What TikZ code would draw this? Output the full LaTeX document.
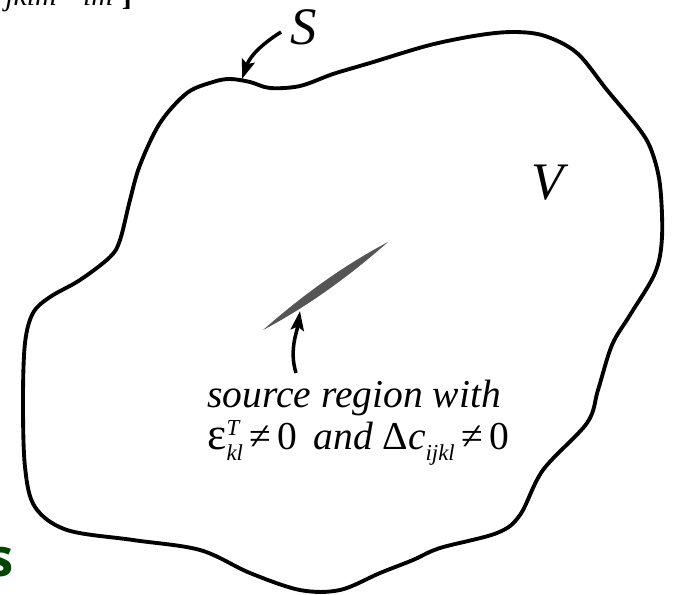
\documentclass[tikz,border=0pt]{standalone}
\usepackage{fontspec}
\setmainfont{Liberation Serif}
\newfontfamily\slidefont{Open Sans}
\usetikzlibrary{arrows.meta}
\definecolor{srcgray}{RGB}{85,85,85}
\definecolor{slidegreen}{RGB}{0,70,0}
\newcommand{\idxsupsub}[2]{\rlap{\raisebox{0.8ex}{\fontsize{13}{13}\selectfont\itshape #1}}\raisebox{-0.6ex}{\fontsize{13}{13}\selectfont\itshape #2}}

\begin{document}
\begin{tikzpicture}[x=0.02cm,y=-0.02cm]
      \useasboundingbox (0,0) rectangle (673,595);
      % boundary S of the body V
      \draw[line width=2.2pt] plot[smooth cycle, tension=0.55] coordinates {
        (213,82) (230,79) (250,82) (270,88) (300,86) (333,74) (370,63) (430,45) (480,35) (515,32)
        (545,36) (577,53) (607,90) (640,130) (652,152) (660,185) (662,237) (655,273)
        (630,315) (612,345) (598,390) (587,423) (543,470) (520,515) (497,533) (440,548)
        (413,560) (380,573) (340,590) (300,590) (250,573) (200,550) (133,540) (67,530)
        (35,507) (25,467) (23,400) (25,343) (33,313) (50,297) (80,280) (110,257) (120,240)
        (130,200) (140,165) (160,123) (187,93)};
      % source region
      \fill[srcgray] (263,330) .. controls (301.6,296) and (342.6,266) .. (388,242)
                               .. controls (349.4,276) and (308.4,306) .. cycle;
      \coordinate (stail) at (281,32);
      \coordinate (stip) at (242,79);
      \coordinate (srcfoot) at (296,373);
      \coordinate (srctip) at (300,311);
      \draw[line width=2pt, -{Stealth[length=11pt,width=7.5pt,inset=2pt]}] (stail) .. controls (262,44) and (250,56) .. (stip);
      \draw[line width=2pt, -{Stealth[length=11pt,width=7.5pt,inset=2pt]}] (srcfoot) .. controls (289,350) and (297,332) .. (srctip);
      \node[font=\fontsize{30}{30}\selectfont\itshape] (slbl) at (304,27) {S};
      \node[font=\fontsize{30}{30}\selectfont\itshape] (vlbl) at (548,183) {V};
      \node[anchor=north west, align=left, inner sep=0, font=\fontsize{22.5}{24}\selectfont\itshape] (srctxt) at (207,380)
        {source region with\\
         {\upshape\fontsize{26}{24}\selectfont ε}\idxsupsub{T}{kl}\,{\upshape ≠\,0}\hspace{0.4em}and {\upshape Δ}c\raisebox{-0.6ex}{\fontsize{13}{13}\selectfont ijkl}\,{\upshape ≠\,0}};
      % cut-off pieces of the slide
      \node[anchor=base west, inner sep=0, font=\fontsize{17}{17}\selectfont\itshape] (frag) at (5,6) {jklm\hspace{15pt}lm\hspace{5pt}{\upshape\bfseries ]}};
      \node[anchor=base east, inner sep=0, text=slidegreen, font=\fontsize{30}{30}\selectfont\slidefont\bfseries] (sfrag) at (14,576) {s};
\end{tikzpicture}
\end{document}
